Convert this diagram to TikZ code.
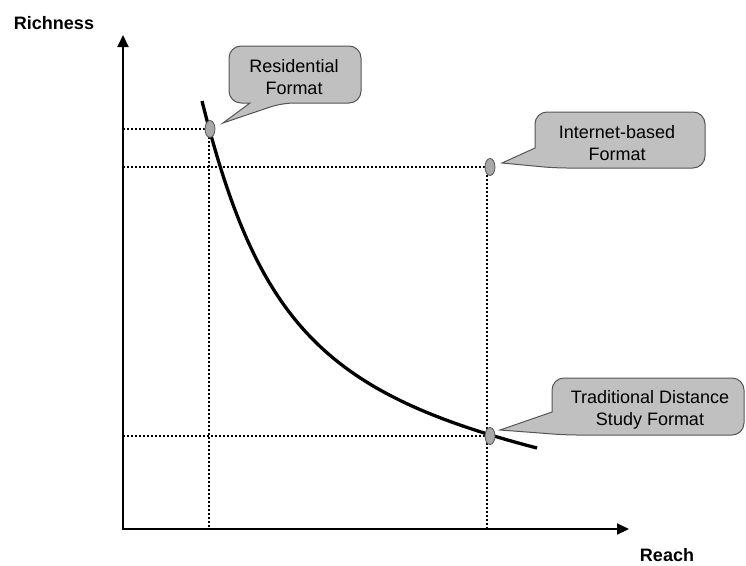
\documentclass[tikz,border=0pt]{standalone}
\usepackage{fontspec}
\setmainfont{Liberation Sans}
\usetikzlibrary{arrows.meta,shapes.geometric}
\definecolor{boxfill}{HTML}{C0C0C0}
\definecolor{boxline}{HTML}{555555}
\definecolor{dotfill}{HTML}{A8A8A8}
\begin{document}
\begin{tikzpicture}[x=1pt,y=-1pt,
  axis/.style={line width=2pt,{Triangle[length=12pt,width=11pt]}-{Triangle[length=12pt,width=11pt]}},
  guide/.style={line width=2.2pt,dash pattern=on 2pt off 2pt},
  curveline/.style={line width=3.3pt},
  marker/.style={ellipse,draw=boxline,fill=dotfill,line width=0.8pt,minimum width=10pt,minimum height=17pt,inner sep=0pt},
  bubble/.style={fill=boxfill,draw=boxline,line width=1pt},
  bubbletext/.style={font=\fontsize{18}{22.5}\selectfont,align=center,inner sep=0pt},
  axislabel/.style={font=\fontsize{18}{22}\selectfont\bfseries,inner sep=0pt}]
\useasboundingbox (0,0) rectangle (746,565);

% axes
\coordinate (O) at (123,529);
\coordinate (Ytop) at (123,35);
\coordinate (Xend) at (629,529);
\draw[axis] (Ytop) -- (O) -- (Xend);
\node[axislabel] (rich) at (54,23) {Richness};
\node[axislabel] (reach) at (667,555) {Reach};

% marker positions
\coordinate (p1) at (210,129);
\coordinate (p2) at (490,167);
\coordinate (p3) at (490,436);

% dotted guides
\draw[guide] (O |- p1) -- (p1);
\draw[guide] ([xshift=-1pt]p1) -- ([xshift=-1pt]p1 |- O);
\draw[guide] (O |- p2) -- (p2);
\draw[guide] ([xshift=-3pt]p2) -- ([xshift=-3pt]p2 |- O);
\draw[guide] (O |- p3) -- (p3);

% curve
\coordinate (cs) at (202,101);
\coordinate (ce) at (537,448);
\draw[curveline] (cs) .. controls (257.6,323.4) and (324.6,392.8) .. (ce);

% markers
\node[marker] (m1) at (p1) {};
\node[marker] (m2) at (p2) {};
\node[marker] (m3) at (p3) {};

% callouts
\coordinate (t1) at (223,123);
\coordinate (t2) at (502,163);
\coordinate (t3) at (500,430);
\draw[bubble] (250,103) [rounded corners=12pt] -- (229,103) -- (229,46) -- (361,46) -- (361,103) -- (282,103) [sharp corners] -- (t1) -- cycle;
\draw[bubble] (535,148) [rounded corners=12pt] -- (535,112) -- (705,112) -- (705,168) -- (555,168) [sharp corners] -- (t2) -- cycle;
\draw[bubble] (552,412) [rounded corners=12pt] -- (552,378) -- (744,378) -- (744,435) -- (566,435) [sharp corners] -- (t3) -- cycle;

\node[bubbletext] (c1) at (294,77) {Residential\\Format};
\node[bubbletext] (c2) at (617,143) {Internet-based\\Format};
\node[bubbletext] (c3) at (650,410) {Traditional Distance\\Study Format};
\end{tikzpicture}
\end{document}
